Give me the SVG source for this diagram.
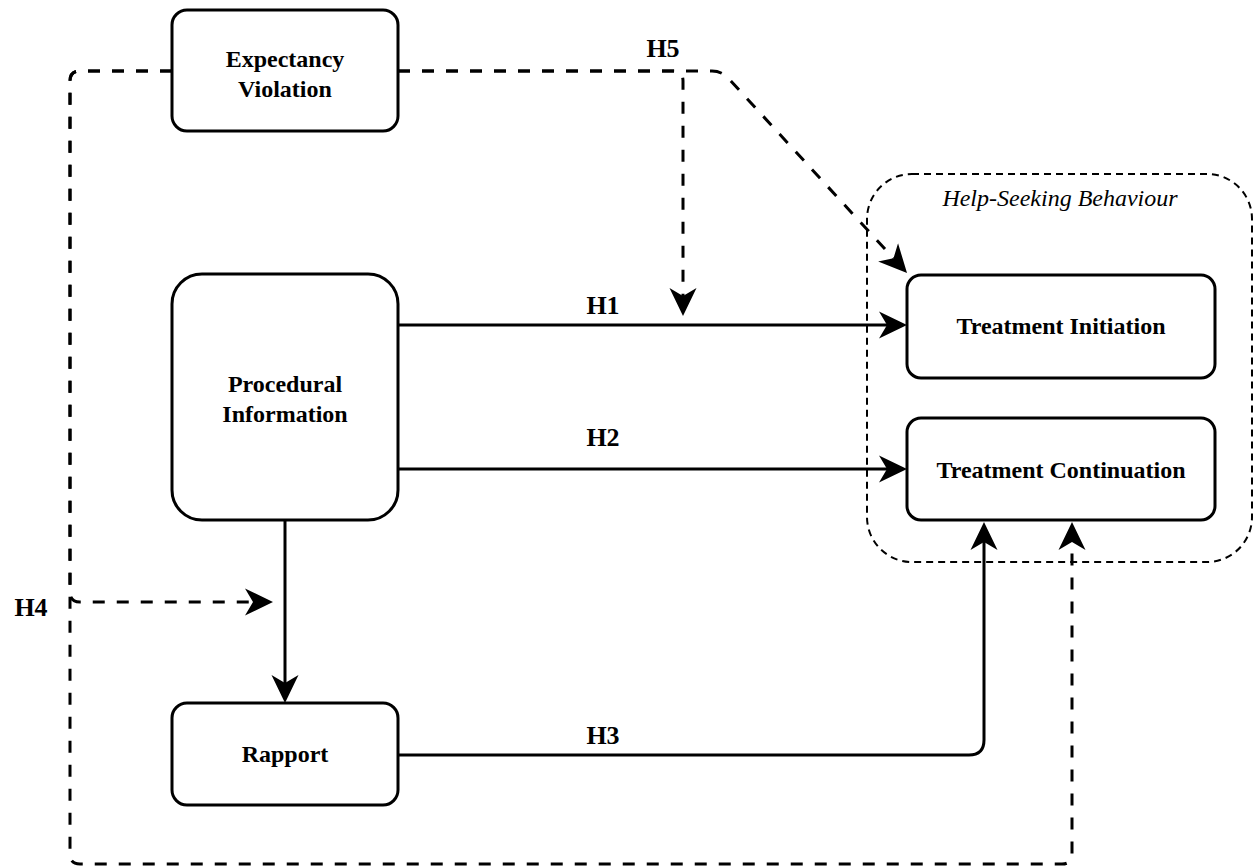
<svg xmlns="http://www.w3.org/2000/svg" width="1254" height="867" viewBox="0 0 1254 867">
<style>
.node{fill:#fff;stroke:#000;stroke-width:3}
.nt{font-family:"Liberation Serif","Times New Roman",serif;font-weight:bold;font-size:24px;text-anchor:middle;fill:#000}
.lbl{font-family:"Liberation Serif","Times New Roman",serif;font-weight:bold;font-size:26px;text-anchor:middle;fill:#000}
.grp{font-family:"Liberation Serif","Times New Roman",serif;font-style:italic;font-size:24px;text-anchor:middle;fill:#000}
.solid{fill:none;stroke:#000;stroke-width:3;marker-end:url(#arr)}
.dash{fill:none;stroke:#000;stroke-width:3;stroke-dasharray:12 12;marker-end:url(#arr)}
.cont{fill:none;stroke:#000;stroke-width:2;stroke-dasharray:7 5}
</style>
<defs>
<marker id="arr" markerUnits="userSpaceOnUse" viewBox="0 0 28 28" refX="8" refY="14" markerWidth="28" markerHeight="28" orient="auto">
<path d="M0,0.5 L28,14 L0,27.5 L8,14 Z" fill="#000"/>
</marker>
</defs>
<rect width="1254" height="867" fill="#fff"/>
<g id="help-seeking-group">
<rect class="cont" x="867" y="174" width="385" height="388" rx="45" ry="45"/>
<text class="grp" x="1060" y="206">Help-Seeking Behaviour</text>
</g>
<g id="connectors">
<path class="solid" d="M398,325 H887"/>
<path class="solid" d="M398,469 H887"/>
<path class="solid" d="M285,520 V683"/>
<path class="solid" d="M398,755 H969 Q984,755 984,740 V542"/>
<path class="dash" d="M172,71 H80 Q70,71 70,81 V592 Q70,602 80,602 H253"/>
<path class="dash" d="M172,71 H80 Q70,71 70,81 V854 Q70,864 80,864 H1062 Q1072,864 1072,854 V542"/>
<path class="dash" d="M398,71 H673 Q683,71 683,81 V296"/>
<path class="dash" d="M398,71 H712 Q722,71 729,79 L893.5,258.3"/>
<text class="lbl" x="663" y="57">H5</text>
<text class="lbl" x="603" y="314">H1</text>
<text class="lbl" x="603" y="446">H2</text>
<text class="lbl" x="603" y="744">H3</text>
<text class="lbl" x="31" y="616">H4</text>
</g>
<g id="expectancy-violation">
<rect class="node" x="172" y="10" width="226" height="121" rx="15"/>
<text class="nt" x="285" y="67">Expectancy</text>
<text class="nt" x="285" y="97">Violation</text>
</g>
<g id="procedural-information">
<rect class="node" x="172" y="274" width="226" height="246" rx="30"/>
<text class="nt" x="285" y="392">Procedural</text>
<text class="nt" x="285" y="422">Information</text>
</g>
<g id="rapport">
<rect class="node" x="172" y="703" width="226" height="102" rx="15"/>
<text class="nt" x="285" y="762">Rapport</text>
</g>
<g id="treatment-initiation">
<rect class="node" x="907" y="275" width="308" height="103" rx="14"/>
<text class="nt" x="1061" y="334">Treatment Initiation</text>
</g>
<g id="treatment-continuation">
<rect class="node" x="907" y="418" width="308" height="102" rx="14"/>
<text class="nt" x="1061" y="478">Treatment Continuation</text>
</g>
</svg>
